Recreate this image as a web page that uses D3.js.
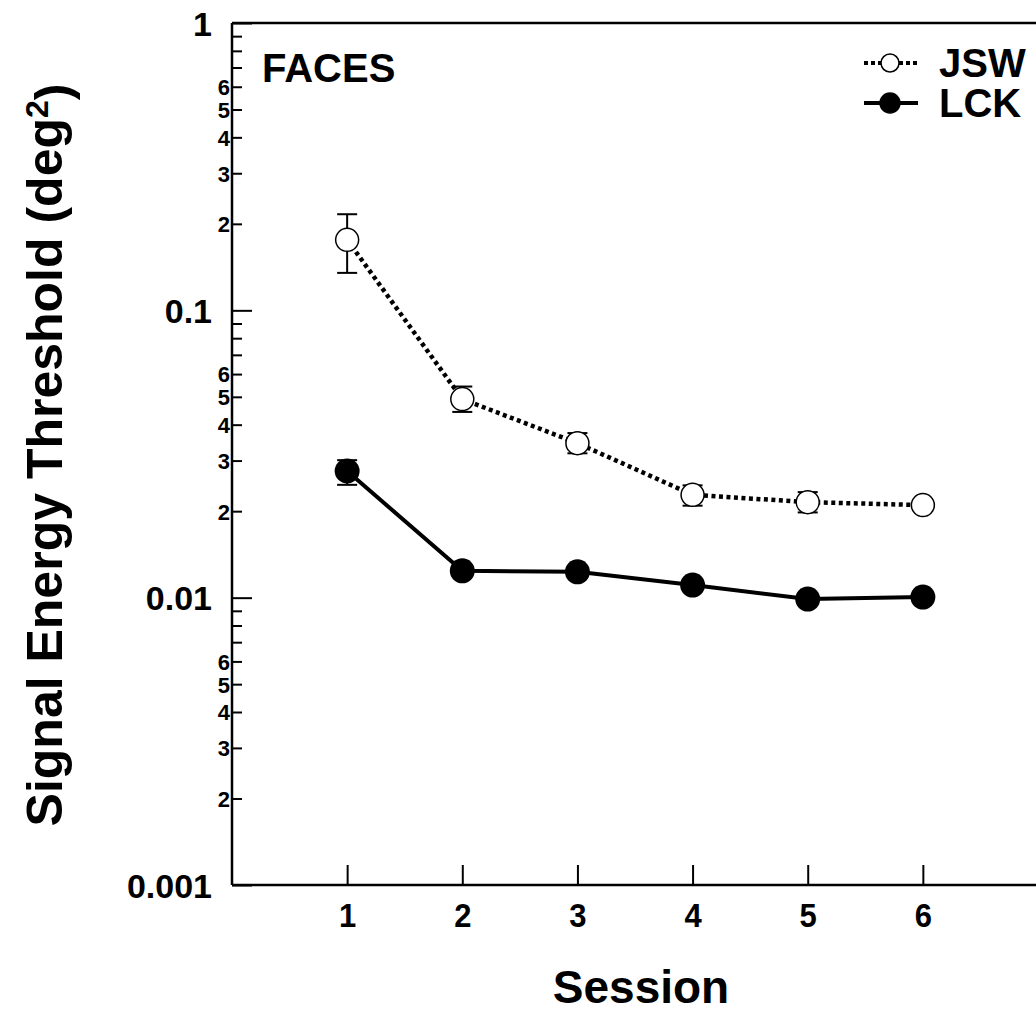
<!DOCTYPE html>
<html><head><meta charset="utf-8">
<script src="https://cdn.jsdelivr.net/npm/d3@7"></script>
<style>
html,body{margin:0;padding:0;background:#fff;}
text{font-family:"Liberation Sans",Arial,Helvetica,sans-serif;font-weight:bold;fill:#000;}
</style></head>
<body>
<svg id="chart" width="1036" height="1015"></svg>
<script>
const sessions = [1, 2, 3, 4, 5, 6];
const jswValues = [0.176, 0.0491, 0.0345, 0.0228, 0.0215, 0.0210];
const jswLow    = [0.135, 0.0443, 0.0318, 0.0209, 0.0198, 0.0205];
const jswHigh   = [0.216, 0.0543, 0.0374, 0.0246, 0.0233, 0.0215];
const lckValues = [0.0276, 0.0124, 0.0123, 0.01106, 0.00989, 0.01005];
const lckLow    = [0.0247, 0.0118, 0.0117, 0.0106, 0.0095, 0.0097];
const lckHigh   = [0.0301, 0.0130, 0.0129, 0.0116, 0.0103, 0.0104];
const majorTicks = [1, 0.1, 0.01, 0.001];
const minorTicks = [2,3,4,5,6,7,8,9].flatMap(m => [m*0.1, m*0.01, m*0.001]);
const labeledMinor = [2,3,4,5,6];
const xTicks = [1, 2, 3, 4, 5, 6];
const seriesNames = ["JSW", "LCK"];

(function(){
const svg = d3.select("#chart");
const pL = 232, pR = 1038, pT = 23, pB = 885;
const x = d3.scaleLinear().domain([0, 7]).range([pL, pR]);
const y = d3.scaleLog().domain([0.001, 1]).range([pB, pT]);

svg.append("line").attr("x1", pL).attr("x2", pR).attr("y1", pT).attr("y2", pT)
  .attr("stroke", "#000").attr("stroke-width", 2.5);

const yMinor = svg.append("g").attr("transform", `translate(${pL},0)`)
  .call(d3.axisLeft(y).tickValues(minorTicks).tickSizeInner(-10).tickSizeOuter(0).tickPadding(2)
    .tickFormat(d => {
      const m = Math.round(d / Math.pow(10, Math.floor(Math.log10(d) + 1e-9)));
      return labeledMinor.includes(m) ? String(m) : "";
    }));
yMinor.select(".domain").remove();
yMinor.selectAll("line").attr("stroke", "#000").attr("stroke-width", 2);
yMinor.selectAll("text").style("font-size", "22px").attr("dy", "0.36em");

const yMajor = svg.append("g").attr("transform", `translate(${pL},0)`)
  .call(d3.axisLeft(y).tickValues(majorTicks).tickSizeInner(-20).tickSizeOuter(0).tickPadding(20)
    .tickFormat(d => String(d)));
yMajor.select(".domain").attr("stroke", "#000").attr("stroke-width", 2.5).attr("d", `M0,${pT}V${pB}`);
yMajor.selectAll("line").attr("stroke", "#000").attr("stroke-width", 2);
yMajor.selectAll("text").style("font-size", "34px").attr("dy", "0.36em");

const xAxis = svg.append("g").attr("transform", `translate(0,${pB})`)
  .call(d3.axisBottom(x).tickValues(xTicks).tickSizeInner(-20).tickSizeOuter(0).tickPadding(16)
    .tickFormat(d3.format("d")));
xAxis.select(".domain").attr("stroke", "#000").attr("stroke-width", 2.5).attr("d", `M${pL},0H${pR}`);
xAxis.selectAll("line").attr("stroke", "#000").attr("stroke-width", 2);
xAxis.selectAll("text").style("font-size", "31px").attr("transform", "scale(1,1.1)");
svg.selectAll("g").attr("font-family", null).attr("font-size", null);

const lineGen = d3.line().x((d, i) => x(sessions[i])).y(d => y(d));
svg.append("path").datum(jswValues).attr("d", lineGen).attr("fill", "none")
  .attr("stroke", "#000").attr("stroke-width", 4.5).attr("stroke-dasharray", "4,3.5");
svg.append("path").datum(lckValues).attr("d", lineGen).attr("fill", "none")
  .attr("stroke", "#000").attr("stroke-width", 4);

function errBars(lo, hi) {
  const g = svg.append("g").attr("stroke", "#000").attr("stroke-width", 2);
  sessions.forEach((s, i) => {
    const cx = x(s);
    g.append("line").attr("x1", cx).attr("x2", cx).attr("y1", y(lo[i])).attr("y2", y(hi[i]));
    g.append("line").attr("x1", cx - 10).attr("x2", cx + 10).attr("y1", y(lo[i])).attr("y2", y(lo[i]));
    g.append("line").attr("x1", cx - 10).attr("x2", cx + 10).attr("y1", y(hi[i])).attr("y2", y(hi[i]));
  });
}
errBars(jswLow, jswHigh);
errBars(lckLow, lckHigh);

svg.append("g").selectAll("circle").data(jswValues).join("circle")
  .attr("cx", (d, i) => x(sessions[i])).attr("cy", d => y(d)).attr("r", 11.5)
  .attr("fill", "#fff").attr("stroke", "#000").attr("stroke-width", 1.5);
svg.append("g").selectAll("circle").data(lckValues).join("circle")
  .attr("cx", (d, i) => x(sessions[i])).attr("cy", d => y(d)).attr("r", 12.5)
  .attr("fill", "#000");

svg.append("text").attr("x", 262).attr("y", 82).style("font-size", "40px").text("FACES");

const lg = svg.append("g");
[0, 1].forEach(i => {
  const ly = i === 0 ? 63 : 103;
  lg.append("line").attr("x1", 864).attr("x2", 918).attr("y1", ly).attr("y2", ly)
    .attr("stroke", "#000").attr("stroke-width", 4)
    .attr("stroke-dasharray", i === 0 ? "4,3" : null);
  lg.append("circle").attr("cx", 890).attr("cy", ly).attr("r", i === 0 ? 9 : 10)
    .attr("fill", i === 0 ? "#fff" : "#000").attr("stroke", "#000").attr("stroke-width", 1.5);
  lg.append("text").attr("x", 939).attr("y", ly).attr("dy", "0.36em").style("font-size", "40px").text(seriesNames[i]);
});

svg.append("text").attr("x", 641).attr("y", 1003).attr("text-anchor", "middle")
  .style("font-size", "46px").text("Session");
const yt = svg.append("text").attr("transform", "translate(62,455) rotate(-90)")
  .attr("text-anchor", "middle").style("font-size", "50px");
yt.append("tspan").text("Signal Energy Threshold (deg");
yt.append("tspan").attr("dy", "-0.45em").style("font-size", "32px").text("2");
yt.append("tspan").attr("dy", "0.45em").text(")");
})();
</script>
</body></html>
